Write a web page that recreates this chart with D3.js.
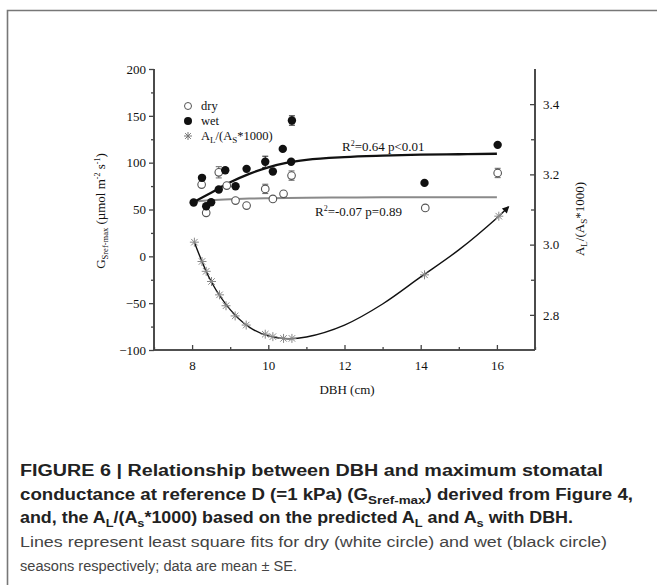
<!DOCTYPE html>
<html><head><meta charset="utf-8">
<script src="https://cdn.jsdelivr.net/npm/d3@7"></script>
<style>body{margin:0;background:#fff}svg{display:block}</style>
</head><body>
<script>
// ---- data ----
const dryX   = [8.25, 8.37, 8.70, 8.91, 9.14, 9.43, 9.92, 10.12, 10.40, 10.61, 14.12, 16.02];
const dryY   = [76.6, 46.4, 89.7, 75.5, 59.5, 54.2, 72.0, 61.3, 66.7, 86.2, 51.7, 89.0];
const dryErr = [0, 0, 6, 0, 0, 0, 5, 0, 0, 5, 0, 5];
const wetX   = [8.04, 8.26, 8.37, 8.50, 8.70, 8.87, 9.14, 9.43, 9.92, 10.12, 10.38, 10.60, 10.62, 14.10, 16.02];
const wetY   = [57.5, 83.8, 53.5, 57.7, 71.3, 91.9, 74.8, 93.4, 100.9, 90.5, 114.7, 100.9, 145.0, 78.4, 119.0];
const wetErr = [0, 0, 0, 0, 0, 0, 0, 0, 6, 0, 0, 0, 5, 0, 0];
const alX    = [8.06, 8.26, 8.37, 8.51, 8.72, 8.89, 9.13, 9.42, 9.92, 10.12, 10.40, 10.62, 14.10, 16.05];
const alY    = [3.007, 2.952, 2.924, 2.895, 2.857, 2.826, 2.797, 2.771, 2.745, 2.738, 2.733, 2.733, 2.914, 3.081];
const fitX   = [8.0, 8.5, 9.0, 9.5, 10.0, 10.5, 11.0, 12.0, 13.0, 14.0, 15.0, 16.0];
const wetFit = [57, 68, 79, 88, 95, 100, 103, 106, 107.5, 108.5, 109, 109.5];
const dryFit = [58.5, 60, 61, 61.7, 62.1, 62.4, 62.6, 62.8, 63, 63, 63, 63.2];
const alFitX = [8.06, 8.5, 9.0, 9.5, 10.0, 10.5, 11.0, 12.0, 13.0, 14.0, 15.0, 16.0, 16.3];
const alFitY = [3.007, 2.895, 2.815, 2.765, 2.740, 2.732, 2.737, 2.771, 2.831, 2.908, 2.985, 3.076, 3.107];
const xTicks = [8, 10, 12, 14, 16];
const xMinor = [7, 9, 11, 13, 15, 17];
const yLTicks = [-100, -50, 0, 50, 100, 150, 200];
const yLMinor = [-75, -25, 25, 75, 125, 175];
const yRTicks = [2.8, 3.0, 3.2, 3.4];
const yRMinor = [2.9, 3.1, 3.3];

const W = 657, H = 585;
const svg = d3.select("body").append("svg").attr("width", W).attr("height", H);
const serif = "'Liberation Serif','Times New Roman',serif";
const sans = "'Liberation Sans',Arial,sans-serif";

// card border
svg.append("path").attr("d", `M7.5,${H + 5}V10.5H${W + 5}`).attr("fill", "none")
  .attr("stroke", "#777").attr("stroke-width", 1.6);

const x = d3.scaleLinear().domain([7, 17]).range([154, 535]);
const yL = d3.scaleLinear().domain([-100, 200]).range([350, 69]);
const yR = d3.scaleLinear().domain([2.7, 3.5]).range([350, 69]);

const axCol = "#444";
// bottom axis (ticks inward)
const gx = svg.append("g").attr("transform", "translate(0,350)");
gx.call(d3.axisBottom(x).tickValues(xTicks).tickSize(-5).tickPadding(11).tickFormat(d3.format("d")));
gx.call(g => g.selectAll(".tick text").attr("dy", "0.71em"));
gx.append("g").call(d3.axisBottom(x).tickValues(xMinor).tickSize(-3).tickFormat(""));
// left axis (ticks outward)
const gl = svg.append("g").attr("transform", "translate(154,0)");
gl.call(d3.axisLeft(yL).tickValues(yLTicks).tickSize(5).tickPadding(3).tickFormat(d3.format("d")));
gl.append("g").call(d3.axisLeft(yL).tickValues(yLMinor).tickSize(3).tickFormat(""));
// right axis (ticks inward)
const gr = svg.append("g").attr("transform", "translate(535,0)");
gr.call(d3.axisRight(yR).tickValues(yRTicks).tickSize(-5).tickPadding(8).tickFormat(d3.format(".1f")));
gr.append("g").call(d3.axisRight(yR).tickValues(yRMinor).tickSize(-4).tickFormat(""));

svg.selectAll(".domain").attr("stroke", axCol).attr("stroke-width", 1.6);
svg.selectAll(".tick line").attr("stroke", axCol).attr("stroke-width", 1.3);
svg.selectAll(".tick text").attr("font-family", serif).attr("font-size", 13).attr("fill", "#111");
gx.selectAll(".domain").attr("d", "M154,0H535");
gl.selectAll(".domain").attr("d", "M0,69V350");
gr.selectAll(".domain").attr("d", "M0,69V350");

// fits
const lineL = d3.line().curve(d3.curveMonotoneX).x(d => x(d[0])).y(d => yL(d[1]));
svg.append("path").attr("d", lineL(fitX.map((v, i) => [v, dryFit[i]])))
  .attr("fill", "none").attr("stroke", "#8a8a8a").attr("stroke-width", 2);
svg.append("path").attr("d", lineL(fitX.map((v, i) => [v, wetFit[i]])))
  .attr("fill", "none").attr("stroke", "#111").attr("stroke-width", 2.3);

svg.append("defs").append("marker").attr("id", "arr").attr("viewBox", "0 0 10 10")
  .attr("refX", 8).attr("refY", 5).attr("markerWidth", 9).attr("markerHeight", 7)
  .attr("markerUnits", "userSpaceOnUse").attr("orient", "auto")
  .append("path").attr("d", "M0,0L10,5L0,10z").attr("fill", "#111");
const lineR = d3.line().curve(d3.curveCatmullRom).x(d => x(d[0])).y(d => yR(d[1]));
svg.append("path").attr("d", lineR(alFitX.map((v, i) => [v, alFitY[i]])))
  .attr("fill", "none").attr("stroke", "#111").attr("stroke-width", 1.4)
  .attr("marker-end", "url(#arr)");

// error bars
function errBars(xs, ys, es, col) {
  const g = svg.append("g").attr("stroke", col).attr("stroke-width", 1);
  xs.forEach((v, i) => {
    if (!es[i]) return;
    const cx = x(v), t = yL(ys[i] + es[i]), b = yL(ys[i] - es[i]);
    g.append("path").attr("d", `M${cx},${t}V${b}M${cx - 3},${t}H${cx + 3}M${cx - 3},${b}H${cx + 3}`).attr("fill", "none");
  });
}
errBars(dryX, dryY, dryErr, "#666");
errBars(wetX, wetY, wetErr, "#222");

// asterisk symbol
const ast = (s) => `M${-s},0H${s}M0,${-s}V${s}M${-s * 0.72},${-s * 0.72}L${s * 0.72},${s * 0.72}M${-s * 0.72},${s * 0.72}L${s * 0.72},${-s * 0.72}`;
svg.append("g").selectAll("path").data(alX).join("path")
  .attr("transform", (d, i) => `translate(${x(d)},${yR(alY[i])})`)
  .attr("d", ast(4.5)).attr("stroke", "#888").attr("stroke-width", 1).attr("fill", "none");

// points
svg.append("g").selectAll("circle").data(dryX).join("circle")
  .attr("cx", d => x(d)).attr("cy", (d, i) => yL(dryY[i])).attr("r", 3.8)
  .attr("fill", "#fff").attr("stroke", "#555").attr("stroke-width", 1.1);
svg.append("g").selectAll("circle").data(wetX).join("circle")
  .attr("cx", d => x(d)).attr("cy", (d, i) => yL(wetY[i])).attr("r", 4.2)
  .attr("fill", "#111");

// legend
const lg = svg.append("g").attr("font-family", serif).attr("font-size", 12.5).attr("fill", "#111");
lg.append("circle").attr("cx", 188).attr("cy", 106).attr("r", 3.5).attr("fill", "#fff").attr("stroke", "#555");
lg.append("text").attr("x", 201).attr("y", 110).text("dry");
lg.append("circle").attr("cx", 188).attr("cy", 121).attr("r", 4).attr("fill", "#111");
lg.append("text").attr("x", 201).attr("y", 125).text("wet");
lg.append("path").attr("transform", "translate(188,136)").attr("d", ast(4)).attr("stroke", "#777").attr("fill", "none");
const lt = lg.append("text").attr("x", 201).attr("y", 140);
lt.append("tspan").text("A");
lt.append("tspan").attr("font-size", 9).attr("dy", 3).text("L");
lt.append("tspan").attr("dy", -3).text("/(A");
lt.append("tspan").attr("font-size", 9).attr("dy", 3).text("S");
lt.append("tspan").attr("dy", -3).text("*1000)");

// R2 labels
function r2(xp, yp, rest) {
  const t = svg.append("text").attr("x", xp).attr("y", yp).attr("font-family", serif).attr("font-size", 13).attr("fill", "#111");
  t.append("tspan").text("R");
  t.append("tspan").attr("font-size", 8).attr("dy", -5).text("2");
  t.append("tspan").attr("dy", 5).text(rest);
}
r2(342, 151, "=0.64 p<0.01");
r2(315, 216, "=-0.07 p=0.89");

// axis titles
svg.append("text").attr("x", 347).attr("y", 394).attr("text-anchor", "middle")
  .attr("font-family", serif).attr("font-size", 13).attr("fill", "#111").text("DBH (cm)");
const yt = svg.append("text").attr("transform", "translate(105,211) rotate(-90)").attr("text-anchor", "middle")
  .attr("font-family", serif).attr("font-size", 13).attr("fill", "#111");
yt.append("tspan").text("G");
yt.append("tspan").attr("font-size", 8.5).attr("dy", 3).text("Sref-max");
yt.append("tspan").attr("dy", -3).text(" (µmol m");
yt.append("tspan").attr("font-size", 8).attr("dy", -5).text("-2");
yt.append("tspan").attr("dy", 5).text(" s");
yt.append("tspan").attr("font-size", 8).attr("dy", -5).text("-1");
yt.append("tspan").attr("dy", 5).text(")");
const rt = svg.append("text").attr("transform", "translate(584,219) rotate(-90)").attr("text-anchor", "middle")
  .attr("font-family", serif).attr("font-size", 13).attr("fill", "#111");
rt.append("tspan").text("A");
rt.append("tspan").attr("font-size", 9).attr("dy", 3).text("L");
rt.append("tspan").attr("dy", -3).text("/(A");
rt.append("tspan").attr("font-size", 9).attr("dy", 3).text("S");
rt.append("tspan").attr("dy", -3).text("*1000)");

// caption
const cap = svg.append("g").attr("font-family", sans).attr("fill", "#2a2a2a");
function capLine(y, parts, bold, len) {
  const t = cap.append("text").attr("x", 20).attr("y", y).attr("font-size", bold ? 16 : 15.5)
    .attr("font-weight", bold ? "bold" : "normal").attr("fill", bold ? "#222" : "#444");
  parts.forEach(p => {
    const s = t.append("tspan").text(p[0]);
    if (p[1] === "sub") s.attr("font-size", bold ? 11.5 : 11).attr("dy", 4);
    if (p[2]) s.attr("dy", -4);
  });
  t.attr("textLength", len).attr("lengthAdjust", "spacingAndGlyphs");
}
capLine(476, [["FIGURE 6 | Relationship between DBH and maximum stomatal"]], true, 583);
capLine(500, [["conductance at reference D (=1 kPa) (G"], ["Sref-max", "sub"], [") derived from Figure 4,", null, true]], true, 613);
capLine(523, [["and, the A"], ["L", "sub"], ["/(A", null, true], ["s", "sub"], ["*1000) based on the predicted A", null, true], ["L", "sub"], [" and A", null, true], ["s", "sub"], [" with DBH.", null, true]], true, 553);
capLine(547, [["Lines represent least square fits for dry (white circle) and wet (black circle)"]], false, 587);
capLine(571, [["seasons respectively; data are mean \u00b1 SE."]], false, 277);
</script>
</body></html>
